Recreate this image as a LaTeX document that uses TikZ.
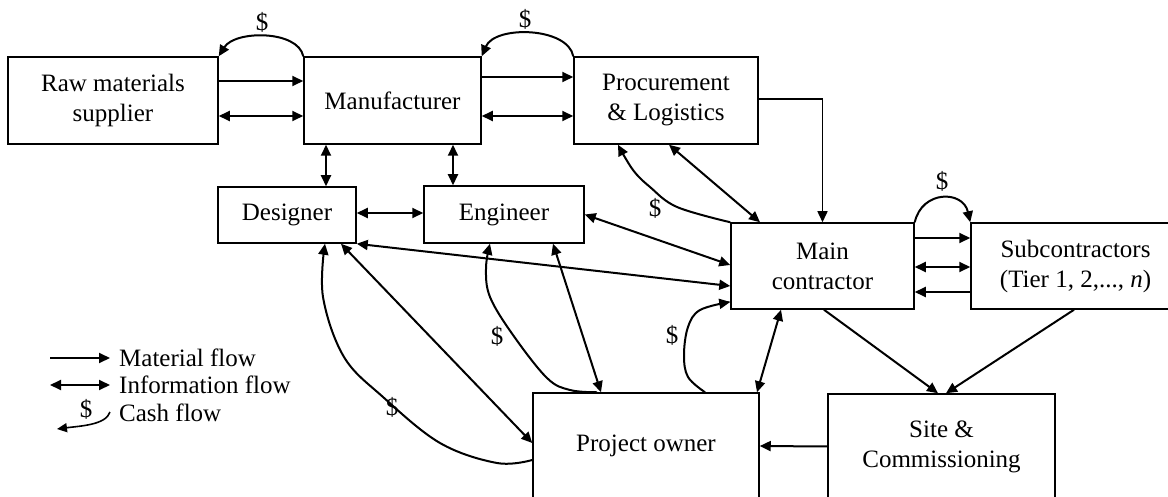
\documentclass[tikz,border=0pt]{standalone}
\usepackage{fontspec}
\setmainfont{Liberation Serif}
\usetikzlibrary{arrows.meta}
\begin{document}
\begin{tikzpicture}[x=1pt,y=-1pt,
  box/.style={draw,line width=1.5pt,align=center,inner sep=0pt,font=\fontsize{25}{30}\selectfont},
  mat/.style={line width=2pt,-{Triangle[length=11pt,width=10pt]}},
  info/.style={line width=2pt,{Triangle[length=11pt,width=10pt]}-{Triangle[length=11pt,width=10pt]}},
  cash/.style={line width=2pt,-{Triangle[length=11pt,width=10pt]}},
  lbl/.style={font=\fontsize{25}{30}\selectfont,inner sep=0pt}]
\useasboundingbox (0,0) rectangle (1168,497);
\path[clip] (0,0) rectangle (1168,497);
% boxes
\node[box,minimum width=210pt,minimum height=87pt] (raw) at (113,100.5) {Raw materials\\supplier};
\node[box,minimum width=177pt,minimum height=87pt] (man) at (392.5,100.5) {Manufacturer};
\node[box,minimum width=184pt,minimum height=87pt] (proc) at (666,100.5) {Procurement\\\& Logistics};
\node[box,minimum width=138pt,minimum height=56pt] (des) at (287,215) {Designer};
\node[box,minimum width=160pt,minimum height=57pt] (eng) at (504,214.5) {Engineer};
\node[box,minimum width=183pt,minimum height=86pt] (main) at (822.5,266) {Main\\contractor};
\node[box,minimum width=209pt,minimum height=86pt] (sub) at (1075.5,266) {Subcontractors\\(Tier 1, 2,..., \textit{n})};
\node[box,minimum width=226pt,minimum height=106pt] (own) at (646,446) {Project owner};
\node[box,minimum width=227pt,minimum height=105pt] (site) at (941.5,446.5) {Site \&\\Commissioning};
% top cash arcs
\draw[cash] (man.north west) .. controls (298,30) and (235,30) .. (raw.north east);
\node[lbl] (c1) at (262,22) {\$};
\draw[cash] (proc.north west) .. controls (568,27) and (495,25) .. (man.north east);
\node[lbl] (c2) at (525,19) {\$};
% horizontal flows, top row
\draw[mat] (raw.east |- 0,81) -- (man.west |- 0,81);
\draw[info] (raw.east |- 0,116) -- (man.west |- 0,116);
\draw[mat] (man.east |- 0,77) -- (proc.west |- 0,77);
\draw[info] (man.east |- 0,116) -- (proc.west |- 0,116);
% manufacturer to designer / engineer
\draw[info] (man.south -| 326,0) -- (des.north -| 326,0);
\draw[info] (man.south -| 453,0) -- (eng.north -| 453,0);
\draw[info] (des.east |- 0,213) -- (eng.west |- 0,213);
% procurement to main contractor
\draw[line width=1.5pt,-{Triangle[length=11pt,width=10pt]}] (proc.east |- 0,99) -| (main.north);
\draw[info] (proc.south -| 669,0) -- (main.north -| 760,0);
\draw[cash] plot[smooth,tension=0.6] coordinates {(main.north west) (677,207) (650,187) (633,170) (proc.south -| 618,0)};
\node[lbl] (c3) at (655,208) {\$};
% main contractor and subcontractors
\draw[cash] (main.north east) .. controls (922,190) and (963,190) .. (sub.north west);
\node[lbl] (c4) at (942,181) {\$};
\draw[mat] (main.east |- 0,238) -- (sub.west |- 0,238);
\draw[info] (main.east |- 0,267) -- (sub.west |- 0,267);
\draw[mat] (sub.west |- 0,292) -- (main.east |- 0,292);
% designer / engineer to main contractor
\draw[info] (eng.east) -- (main.west |- 0,265);
\draw[info] (des.south east) -- (main.west |- 0,286);
% project owner links
\draw[info] (des.south -| 341,0) -- (own.west |- 0,443);
\draw[cash] plot[smooth,tension=0.6] coordinates {(own.west |- 0,460) (497,463) (440,443) (383,397) (344,357) (323,297) (des.south -| 325,0)};
\node[lbl] (c5) at (392,407) {\$};
\draw[info] (eng.south -| 553,0) -- (own.north -| 601,0);
\draw[cash] plot[smooth,tension=0.6] coordinates {(own.north -| 597,0) (570,390) (547,378) (513,335) (490,297) (486,268) (eng.south -| 490,0)};
\node[lbl] (c6) at (497,336) {\$};
\draw[info] (own.north -| 757,0) -- (main.south -| 781,0);
\draw[cash] plot[smooth,tension=0.6] coordinates {(own.north -| 705,0) (688,377) (684,355) (688,327) (700,310) (main.west |- 0,302)};
\node[lbl] (c7) at (672,335) {\$};
% site
\draw[mat] (main.south -| 824,0) -- (site.north -| 938,0);
\draw[mat] (sub.south -| 1074,0) -- (site.north -| 946,0);
\draw[mat] (site.west) -- (own.east);
% legend
\node[lbl,anchor=west] (lm) at (119,358) {Material flow};
\node[lbl,anchor=west] (li) at (119,385) {Information flow};
\node[lbl,anchor=west] (lc) at (119,413) {Cash flow};
\coordinate (lm0) at (50,358);
\coordinate (li0) at (50,385);
\draw[mat] (lm0) -- (lm.west -| 110,0);
\draw[info] (li0) -- (li.west -| 110,0);
\node[lbl] (ld) at (86,409) {\$};
\coordinate (lc1) at (110,412);
\coordinate (lc0) at (57,429);
\draw[line width=1.6pt,-{Triangle[length=10pt,width=9pt]}] (lc1) .. controls (106,425) and (80,426) .. (lc0);
\end{tikzpicture}
\end{document}
